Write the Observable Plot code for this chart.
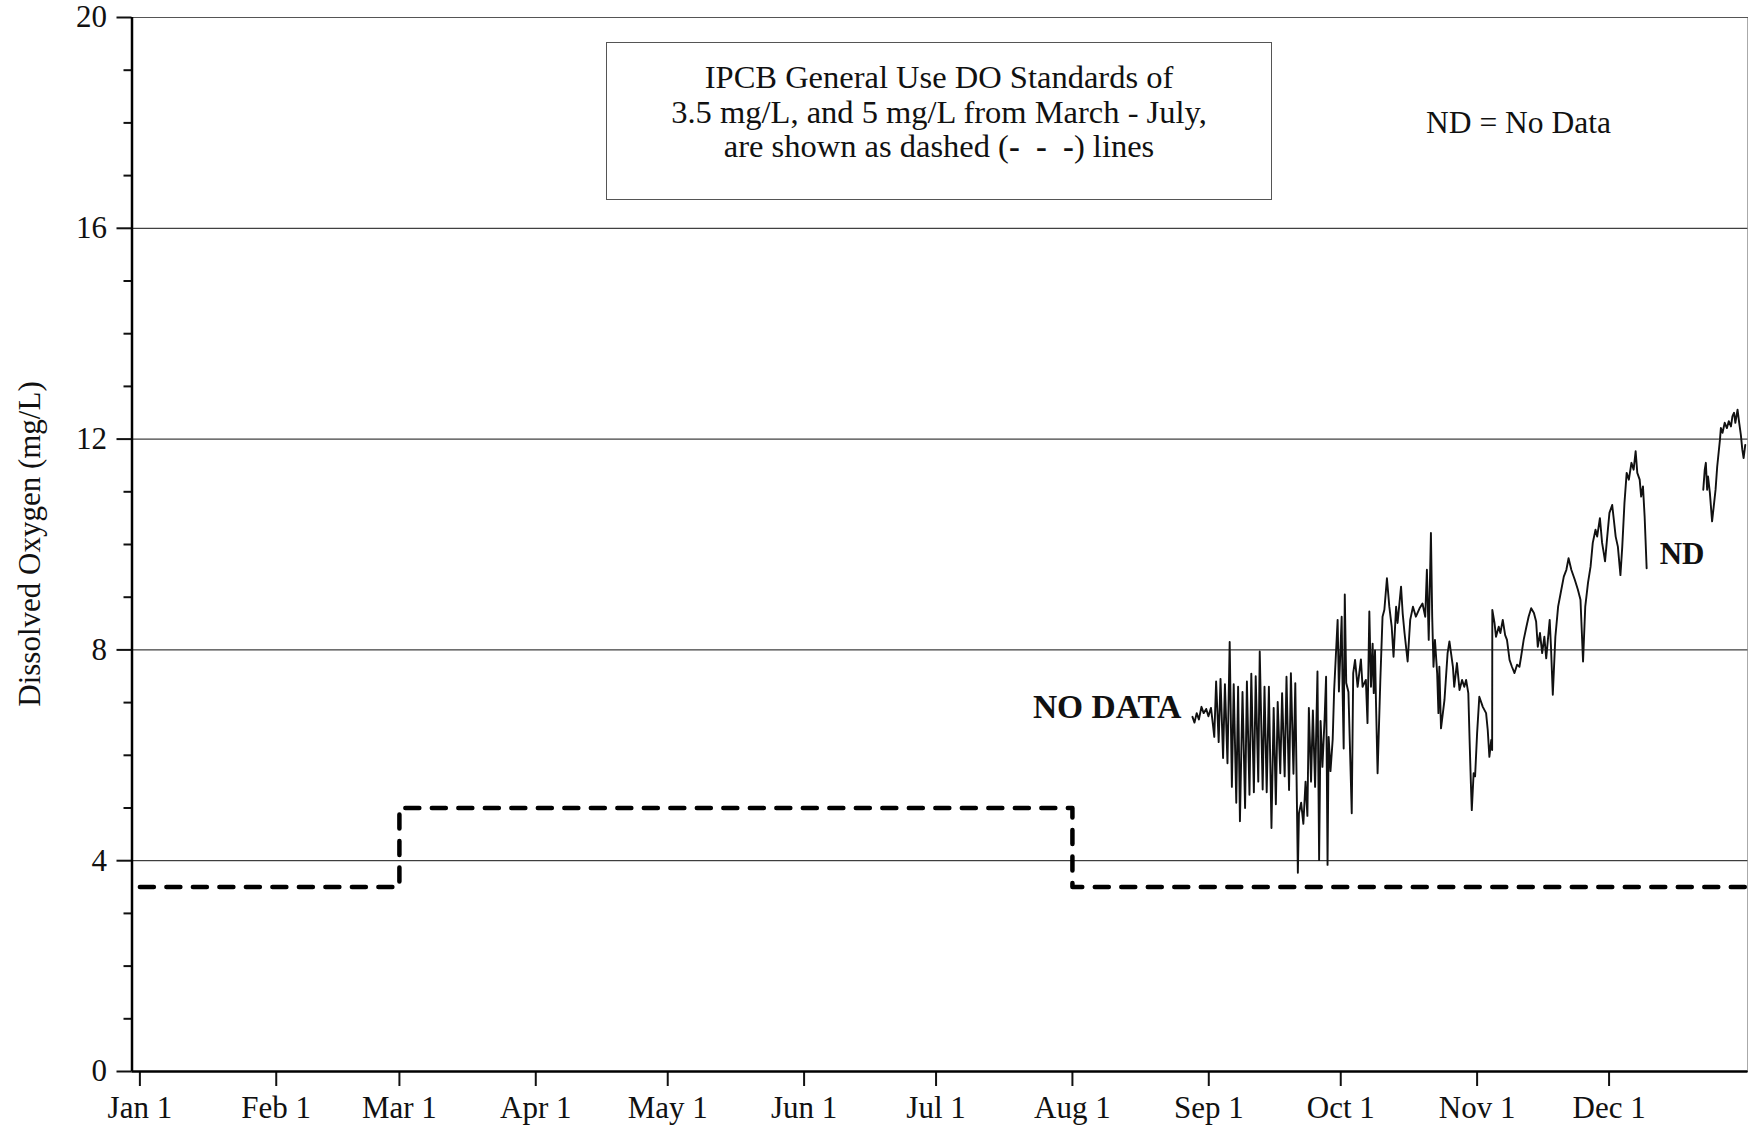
<!DOCTYPE html>
<html>
<head>
<meta charset="utf-8">
<script src="https://cdn.jsdelivr.net/npm/d3@7"></script>
<script src="https://cdn.jsdelivr.net/npm/@observablehq/plot@0.6"></script>
<style>
  body { margin: 0; background: #fff; }
  #wrap { position: relative; width: 1748px; height: 1127px; font-family: "Liberation Serif", "Times New Roman", serif; color: #111; }
  #wrap svg { position: absolute; left: 0; top: 0; }
  #box { position: absolute; left: 606px; top: 42px; width: 666px; height: 158px; box-sizing: border-box;
         border: 1px solid #555; background: #fff; text-align: center; font-size: 32.5px; line-height: 34.5px; padding-top: 17px; }
  #box div { height: 34.5px; }
  #box b { font-weight: bold; }
  #ytitle { position: absolute; left: 30px; top: 544px; transform: translate(-50%, -50%) rotate(-90deg);
            white-space: nowrap; font-size: 31px; }
</style>
</head>
<body>
<div id="wrap">
  <div id="box">
    <div>IPCB General Use DO Standards of</div>
    <div>3.5 mg/L, and 5 mg/L from March - July,</div>
    <div>are shown as dashed (<b>-&nbsp;&nbsp;-&nbsp;&nbsp;-</b>) lines</div>
  </div>
  <div id="ytitle">Dissolved Oxygen (mg/L)</div>
</div>
<script>
const year = 2001;

// Continuous dissolved oxygen record (mg/L); null = no data gap
const doTimes = [
  "08-28T07","08-28T18","08-29T06","08-29T18","08-30T08","08-30T20","08-31T10","08-31T22","09-01T12","09-01T22",
  "09-02T06","09-02T16","09-03T06","09-03T16","09-04T06","09-04T16","09-05T06","09-05T18","09-06T06","09-06T16",
  "09-07T06","09-07T16","09-08T02","09-08T16","09-09T06","09-09T16","09-10T06","09-10T16","09-11T06","09-11T16",
  "09-12T06","09-12T14","09-13T06","09-13T16",
  "09-14T04","09-14T16","09-15T06","09-15T18","09-16T06","09-16T16","09-17T06","09-17T16","09-18T06","09-18T16",
  "09-19T06","09-19T16","09-20T06","09-20T16","09-21T06","09-21T12","09-22T00","09-22T12","09-23T00","09-23T10",
  "09-23T18","09-24T06","09-24T16","09-25T04","09-25T17","09-26T02","09-26T10","09-26T20","09-27T08","09-27T16",
  "09-28T00","09-28T06","09-28T16","09-29T04","09-29T12","09-30T07","09-30T14","10-01T05","10-01T10","10-01T16",
  "10-01T22","10-02T06","10-02T18","10-03T12","10-03T20","10-04T06","10-04T20",
  "10-05T14","10-05T23","10-06T17","10-07T02","10-07T12","10-07T21","10-08T06","10-08T12","10-08T19","10-09T00",
  "10-09T09","10-10T00","10-10T12","10-10T22","10-11T12","10-12T01","10-12T14","10-13T00","10-13T14","10-13T22",
  "10-14T17","10-15T02","10-15T12","10-16T05","10-16T19","10-17T10","10-18T02","10-18T22","10-19T14","10-20T05",
  "10-20T14","10-21T00","10-21T12","10-21T19","10-22T02","10-22T10","10-22T22","10-23T05","10-23T10","10-23T19",
  "10-24T14","10-25T07","10-25T17","10-26T12","10-26T19","10-27T10","10-28T00","10-28T14","10-29T02","10-29T12",
  "10-30T00","10-30T07","10-30T14","10-30T19","10-31T05","10-31T13","11-01T00","11-01T12","11-02T07","11-03T01",
  "11-03T10","11-03T19","11-04T05","11-04T10","11-04T11",
  "11-04T23","11-05T07","11-05T22","11-06T07","11-06T20","11-07T09","11-07T19","11-08T09","11-08T22","11-09T12",
  "11-10T02","11-10T15","11-11T00","11-11T14","11-12T05","11-12T17","11-13T07","11-13T22","11-14T10","11-14T19",
  "11-15T07","11-15T19","11-16T07","11-16T17","11-17T12","11-17T19","11-18T05","11-18T19","11-19T10","11-20T00",
  "11-20T17","11-21T07","11-21T19","11-22T10","11-23T05","11-23T22","11-24T12","11-25T02","11-25T14","11-26T05",
  "11-26T19","11-27T07","11-27T22","11-28T07","11-28T22","11-29T10","11-29T19","11-30T02","11-30T14","12-01T02",
  "12-01T17","12-02T02","12-02T12","12-03T00","12-03T14","12-04T00","12-04T12","12-05T00","12-05T12","12-06T02",
  "12-06T14","12-07T01","12-07T10","12-07T23","12-08T07","12-08T17","12-09T02","12-09T07","12-09T13",
  "12-15T00",
  "12-22T10","12-22T18","12-23T00","12-23T07","12-23T12","12-23T22","12-24T10","12-24T19","12-25T05","12-25T14",
  "12-26T05","12-26T10","12-26T19","12-27T07","12-27T19","12-28T05","12-28T17","12-29T01","12-29T10","12-29T17",
  "12-30T05","12-30T14","12-30T23","12-31T07","12-31T14","12-31T23"
];
const doValues = [
  6.73,6.62,6.80,6.68,6.92,6.80,6.88,6.74,6.90,6.60,
  6.35,7.40,6.25,7.45,5.95,7.35,5.85,8.15,5.40,7.35,
  5.10,7.30,4.75,7.20,5.00,7.40,5.25,7.55,5.30,7.50,
  5.50,7.97,5.35,7.30,
  5.30,7.30,4.62,6.90,5.07,7.01,5.66,7.18,5.60,7.49,
  5.34,7.56,5.65,7.37,3.77,4.90,5.10,4.70,5.50,4.85,
  6.90,5.50,6.85,5.40,7.59,4.01,6.65,5.78,6.70,7.49,
  3.92,6.35,5.70,6.30,7.24,8.57,7.21,8.63,7.25,6.13,
  9.05,7.37,7.20,4.90,7.56,7.81,7.30,
  7.82,7.30,7.43,6.61,8.73,7.30,8.12,7.18,7.99,7.05,
  5.66,7.43,8.63,8.76,9.36,8.82,8.44,7.87,8.82,8.51,
  9.20,8.69,8.32,7.78,8.57,8.82,8.63,8.79,8.88,8.63,
  9.52,8.19,10.22,8.63,7.68,8.19,7.56,6.80,7.68,6.51,
  7.05,7.94,8.16,7.68,7.30,7.75,7.24,7.43,7.30,7.43,
  7.18,6.29,5.47,4.96,5.66,5.60,6.42,7.11,6.92,6.80,
  6.48,5.97,6.29,6.10,8.76,
  8.51,8.25,8.44,8.32,8.57,8.28,8.19,7.81,7.68,7.56,
  7.72,7.68,7.87,8.19,8.44,8.63,8.79,8.70,8.54,8.06,
  8.32,7.94,8.25,7.84,8.57,8.06,7.15,8.25,8.82,9.08,
  9.39,9.52,9.74,9.52,9.33,9.14,8.95,7.78,8.82,9.27,
  9.58,10.03,10.28,10.15,10.50,10.03,9.84,9.68,10.15,10.60,
  10.75,10.47,10.15,9.96,9.42,9.96,10.79,11.36,11.23,11.55,
  11.42,11.77,11.36,11.23,10.91,11.10,10.53,10.09,9.55,
  null,
  11.04,11.42,11.55,11.04,11.29,10.98,10.44,10.72,11.04,11.48,
  11.99,12.21,12.12,12.31,12.21,12.34,12.24,12.43,12.50,12.31,
  12.56,12.31,12.08,11.80,11.64,11.89
];

// IPCB general use DO standard (mg/L), step changes
const stdTimes = ["01-01T00","03-01T00","08-01T00","12-31T23"];
const stdValues = [3.5, 5, 3.5, 3.5];

// Axis ticks
const yMajor = [0, 4, 8, 12, 16, 20];
const yMinor = [1, 2, 3, 5, 6, 7, 9, 10, 11, 13, 14, 15, 17, 18, 19];
const monthTicks = ["01-01","02-01","03-01","04-01","05-01","06-01","07-01","08-01","09-01","10-01","11-01","12-01"];

// Annotations
const notes = [
  {text: "NO DATA", time: "08-25T19", value: 6.92, anchor: "end", bold: true},
  {text: "ND", time: "12-17T14", value: 9.82, anchor: "middle", bold: true},
  {text: "ND = No Data", time: "11-10T10", value: 18.0, anchor: "middle", bold: false}
];

const parse = s => new Date(`${year}-${s.length === 5 ? s + "T00" : s}:00Z`);
const series = doTimes.map((t, i) => ({date: parse(t), value: doValues[i] == null ? NaN : doValues[i]}));
const standard = stdTimes.map((t, i) => ({date: parse(t), value: stdValues[i]}));
const noteData = notes.map(n => ({...n, date: parse(n.time)}));
const xDomain = [new Date(Date.UTC(year - 1, 11, 30, 5)), new Date(Date.UTC(year + 1, 0, 1, 14))];

const fontFamily = '"Liberation Serif", "Times New Roman", serif';

const chart = Plot.plot({
  width: 1748,
  height: 1127,
  marginLeft: 131.5,
  marginRight: 0.5,
  marginTop: 17,
  marginBottom: 56,
  style: {fontFamily, fontSize: "31px", color: "#111", background: "transparent", overflow: "visible"},
  x: {type: "utc", domain: xDomain},
  y: {domain: [0, 20]},
  marks: [
    Plot.gridY(yMajor.filter(d => d > 0), {stroke: "#111", strokeOpacity: 1, strokeWidth: 1}),
    Plot.frame({stroke: "#555", strokeWidth: 1}),
    Plot.line(standard, {x: "date", y: "value", curve: "step-after", stroke: "#000", strokeWidth: 4.5, strokeDasharray: "14,12.5"}),
    Plot.line(series, {x: "date", y: "value", stroke: "#111", strokeWidth: 1.9}),
    Plot.axisY(yMajor, {tickSize: 15, tickPadding: 10, fontSize: 31, strokeWidth: 2, tickFormat: d3.format("d"), label: null}),
    Plot.axisY(yMinor, {tickSize: 8, text: null, strokeWidth: 2, label: null}),
    Plot.axisX(monthTicks.map(parse), {tickSize: 15, tickPadding: 9, fontSize: 31, strokeWidth: 2, tickFormat: d3.utcFormat("%b %-d"), label: null}),
    Plot.ruleY([0], {stroke: "#000", strokeWidth: 2.5}),
    Plot.ruleX([xDomain[0]], {stroke: "#000", strokeWidth: 2.5}),
    Plot.text(noteData.filter(d => d.bold && d.anchor === "end"), {x: "date", y: "value", text: "text", textAnchor: "end", fontSize: 33.5, fontWeight: "bold", fill: "#111"}),
    Plot.text(noteData.filter(d => d.bold && d.anchor === "middle"), {x: "date", y: "value", text: "text", fontSize: 31, fontWeight: "bold", fill: "#111"}),
    Plot.text(noteData.filter(d => !d.bold), {x: "date", y: "value", text: "text", fontSize: 31.5, fill: "#111"})
  ]
});

const wrap = document.getElementById("wrap");
wrap.insertBefore(chart, wrap.firstChild);
</script>
</body>
</html>
